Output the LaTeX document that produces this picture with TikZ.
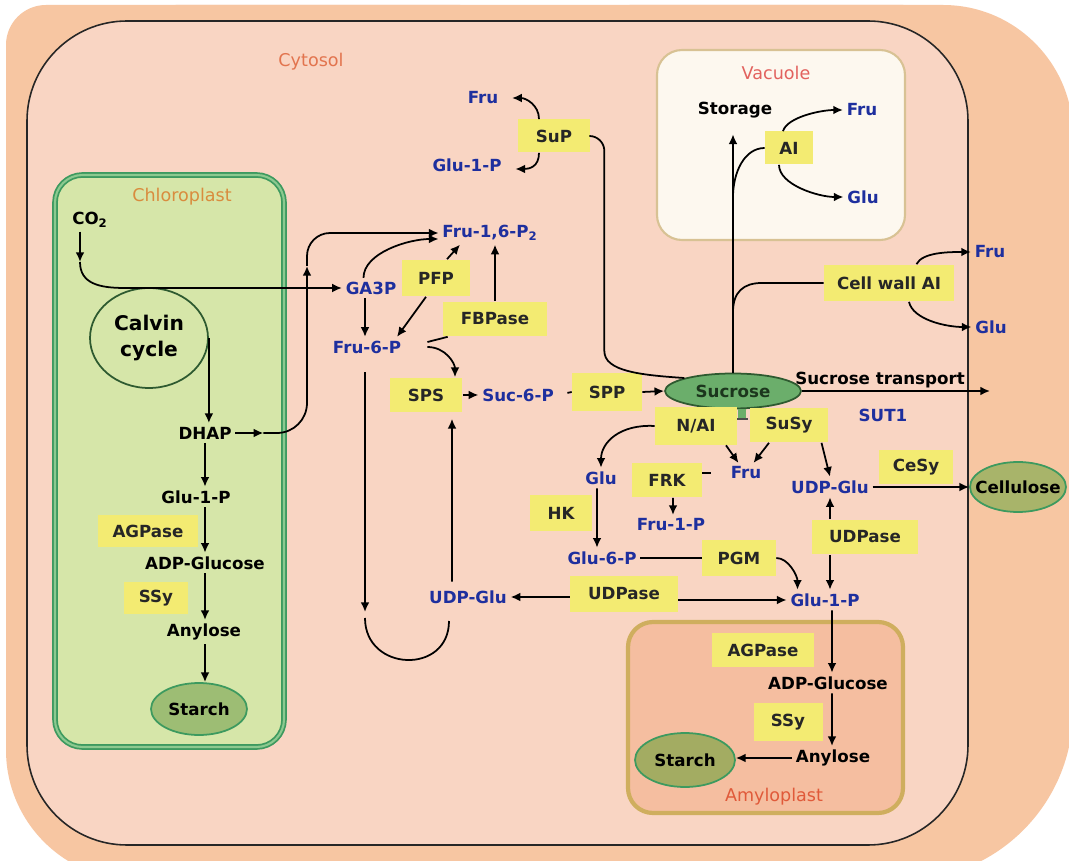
\documentclass[tikz,border=0pt]{standalone}
\usepackage{fontspec}
\setmainfont{DejaVu Sans}
\usetikzlibrary{arrows.meta,shapes.geometric,calc}

\definecolor{outerpeach}{HTML}{F7C6A2}
\definecolor{cytofill}{HTML}{F9D5C3}
\definecolor{chlfill}{HTML}{D6E6A9}
\definecolor{chlborder}{HTML}{3D9A5F}
\definecolor{chlmid}{HTML}{8CC98F}
\definecolor{vacfill}{HTML}{FDF8EF}
\definecolor{vacborder}{HTML}{D8C294}
\definecolor{amyfill}{HTML}{F5BEA0}
\definecolor{amyborder}{HTML}{CFAE5E}
\definecolor{enzyellow}{HTML}{F3EB72}
\definecolor{metblue}{HTML}{1E2F9E}
\definecolor{sucfill}{HTML}{6BAE6B}
\definecolor{sucline}{HTML}{2E5A30}
\definecolor{starchfill}{HTML}{9DBD74}
\definecolor{amystarch}{HTML}{A3AC62}
\definecolor{cellfill}{HTML}{A8B46A}
\definecolor{labcyto}{HTML}{E2744E}
\definecolor{labchl}{HTML}{D98C3E}
\definecolor{labvac}{HTML}{E2625E}
\definecolor{labamy}{HTML}{E05A3A}

\begin{document}
\begin{tikzpicture}[x=0.02cm, y=-0.02cm,
    every node/.style={align=center},
    met/.style={text=metblue, font=\bfseries\fontsize{9.5}{11}\selectfont, inner sep=2pt},
    blk/.style={text=black, font=\bfseries\fontsize{9.5}{11}\selectfont, inner sep=2pt},
    enz/.style={fill=enzyellow, text=black!85, font=\bfseries\fontsize{9.5}{11}\selectfont,
                minimum width=#1, minimum height=0.7cm, inner sep=0pt},
    enz/.default=1.4cm,
    pool/.style={ellipse, draw=#1, line width=1pt, inner sep=0pt},
    calvintxt/.style={font=\bfseries\fontsize{11.5}{15}\selectfont, inner sep=0pt},
    region/.style={font=\fontsize{10}{12}\selectfont},
    arr/.style={-{Latex[length=5.5pt,width=5pt]}, line width=1pt},
    link/.style={line width=1pt},
  ]
  \useasboundingbox (0,0) rectangle (1069,861);
  \clip (0,0) rectangle (1069,861);
  \fill[white] (0,0) rectangle (1069,861);

  % --- Compartments ------------------------------------------------------
  \fill[outerpeach, rounded corners=3.4cm] (6,5) rectangle (1073,880);
  \fill[outerpeach, rounded corners=0.8cm] (6,5) rectangle (500,430);
  \fill[outerpeach, rounded corners=2.6cm] (500,5) rectangle (1073,430);
  \fill[outerpeach, rounded corners=2.6cm] (6,430) rectangle (500,880);
  \filldraw[fill=cytofill, draw=black!85, line width=0.9pt, rounded corners=2cm]
      (27,21) rectangle (968,845);
  \path[fill=chlfill, draw=chlborder, double=chlmid, double distance=1.2pt,
        line width=1pt, rounded corners=0.55cm] (55,175) rectangle (284,747);
  \filldraw[fill=vacfill, draw=vacborder, line width=1.2pt, rounded corners=0.5cm]
      (657,50) rectangle (905,240);
  \filldraw[fill=amyfill, draw=amyborder, line width=2.4pt, rounded corners=0.5cm]
      (628,622) rectangle (903,813);

  \node[region, text=labcyto] (cytolab) at (311,62)  {Cytosol};
  \node[region, text=labchl]  (chllab)  at (182,197) {Chloroplast};
  \node[region, text=labvac]  (vaclab)  at (776,73)  {Vacuole};
  \node[region, text=labamy]  (amylab)  at (774,797) {Amyloplast};

  % --- Chloroplast -------------------------------------------------------
  \node[blk] (co2) at (90,220) {CO\textsubscript{2}};
  \node[pool=sucline, minimum width=2.36cm, minimum height=2cm,
        label={[calvintxt]center:{Calvin\\cycle}}] (calvin) at (149,338) {};
  \node[blk] (dhap)  at (205,433) {DHAP};
  \node[blk] (g1pc)  at (196,497) {Glu-1-P};
  \node[enz=2.02cm, minimum height=0.66cm] (agpc) at (148,531) {AGPase};
  \node[blk] (adpgc) at (205,563) {ADP-Glucose};
  \node[enz=1.3cm, minimum height=0.66cm] (ssyc) at (156,598) {SSy};
  \node[blk] (anylc) at (204,632) {Anylose};
  \node[pool=chlborder, fill=starchfill, minimum width=1.92cm, minimum height=1.04cm,
        label={[blk]center:Starch}] (starchc) at (199,709) {};

  % --- Cytosol: sucrose synthesis ------------------------------------------
  \node[met] (ga3p)   at (371,288) {GA3P};
  \node[enz=1.36cm, minimum height=0.74cm] (pfp) at (436,278) {PFP};
  \node[met] (f16)    at (490,233) {Fru-1,6-P\textsubscript{2}};
  \node[enz=2.08cm] (fbpase) at (495,319) {FBPase};
  \node[met] (f6p)    at (367,347) {Fru-6-P};
  \node[enz=1.46cm] (sps) at (426,395) {SPS};
  \node[met] (suc6p)  at (518,395) {Suc-6-P};
  \node[enz=1.4cm, minimum height=0.76cm] (spp) at (607,392) {SPP};
  \node[pool=sucline, fill=sucfill, minimum width=2.72cm, minimum height=0.7cm,
        label={[blk, text=sucline!60!black]center:Sucrose}] (sucrose) at (733,391) {};
  \node[met] (frutop) at (483,98)  {Fru};
  \node[met] (g1ptop) at (467,165) {Glu-1-P};
  \node[enz=1.44cm, minimum height=0.66cm] (sup) at (554,136) {SuP};

  % --- Vacuole and cell wall -----------------------------------------------
  \node[blk] (storage) at (735,110) {Storage};
  \node[enz=0.96cm, minimum height=0.66cm] (ai) at (789,148) {AI};
  \node[met] (fruvac) at (862,110) {Fru};
  \node[met] (gluvac) at (863,197) {Glu};
  \node[enz=2.6cm, minimum height=0.74cm] (cwai) at (889,283) {Cell wall AI};
  \node[met] (frucw) at (990,252) {Fru};
  \node[met] (glucw) at (991,327) {Glu};
  \node[blk] (suctrans) at (880,380) {Sucrose transport};
  \node[met] (sut1) at (883,415) {SUT1};

  % --- Cytosol: sucrose breakdown ------------------------------------------
  \node[enz=1.64cm, minimum height=0.76cm] (nai) at (696,426) {N/AI};
  \node[enz=1.56cm] (susy) at (789,425) {SuSy};
  \node[met] (glu)   at (601,478) {Glu};
  \node[met] (fru)   at (746,473) {Fru};
  \node[enz=1.4cm] (frk) at (667,480) {FRK};
  \node[enz=1.24cm, minimum height=0.74cm] (hk) at (561,513) {HK};
  \node[met] (fru1p) at (671,525) {Fru-1-P};
  \node[met] (glu6p) at (602,558) {Glu-6-P};
  \node[enz=1.48cm, minimum height=0.74cm] (pgm) at (739,558) {PGM};
  \node[met] (udpglur) at (830,487) {UDP-Glu};
  \node[enz=1.48cm] (cesy) at (916,467) {CeSy};
  \node[pool=chlborder, fill=cellfill, minimum width=1.92cm, minimum height=1cm,
        label={[blk]center:Cellulose}] (cellulose) at (1018,487) {};
  \node[enz=2.12cm] (udpaser) at (865,537) {UDPase};
  \node[met] (glu1pr)  at (825,600) {Glu-1-P};
  \node[enz=2.16cm, minimum height=0.74cm] (udpasel) at (624,594) {UDPase};
  \node[met] (udpglul) at (468,597) {UDP-Glu};

  % --- Amyloplast ----------------------------------------------------------
  \node[enz=2.06cm, minimum height=0.68cm] (agpa) at (763,650) {AGPase};
  \node[blk] (adpga) at (828,683) {ADP-Glucose};
  \node[enz=1.38cm, minimum height=0.78cm] (ssya) at (788,722) {SSy};
  \node[blk] (anyla) at (833,758) {Anylose};
  \node[pool=chlborder, fill=amystarch, minimum width=2cm, minimum height=1.08cm,
        label={[blk]center:Starch}] (starcha) at (685,760) {};

  % --- Connectors: chloroplast ---------------------------------------------
  \coordinate (co2tip) at (80,262);
  \draw[arr] (co2.south -| co2tip) -- (co2tip);
  \draw[arr] (co2tip) .. controls +(0,22) and +(-25,0) ..
      ($(co2tip |- ga3p.west)+(45,0)$) -- (ga3p.west);
  \draw[arr] (calvin.east) -- (calvin.east |- dhap.north);
  \draw[arr] (dhap.east) -- ++(28,0) coordinate (dhapout);
  \coordinate (upmark) at (307,266);
  \draw[arr, rounded corners=0.6cm] (dhapout) -| (upmark);
  \draw[arr, rounded corners=0.46cm] (upmark) |- (f16.west);
  \draw[arr] (dhap.south) -- (dhap.south |- g1pc.north);
  \draw[arr] (g1pc.south -| dhap.south) -- (adpgc.north -| dhap.south);
  \draw[arr] (adpgc.south -| dhap.south) -- (anylc.north -| dhap.south);
  \draw[arr] (anylc.south -| dhap.south) -- (starchc.north -| dhap.south);

  % --- Connectors: sucrose synthesis ---------------------------------------
  \draw[arr] ([xshift=-0.15cm]ga3p.north) .. controls +(0,-25) and +(-30,0) ..
      ([yshift=-0.12cm]f16.west);
  \draw[arr] ([xshift=0.22cm]pfp.north) -- ([xshift=-0.6cm]f16.south);
  \draw[arr] (fbpase.north) -- (fbpase.north |- f16.south);
  \draw[arr] ([xshift=-0.12cm]ga3p.south) -- ($(ga3p.south |- f6p.north)+(-6,0)$);
  \draw[arr] ([xshift=-0.2cm]pfp.south) -- ([xshift=0.6cm]f6p.north);
  \draw[link] ([xshift=0.45cm,yshift=0.1cm]f6p.east) -- ([xshift=0.1cm]fbpase.south west);
  \draw[arr] ([xshift=0.45cm]f6p.east) .. controls +(18,0) and +(0,-14) ..
      ([xshift=0.58cm]sps.north);
  \draw[arr] (sps.east) -- (suc6p.west);
  \draw[link, shorten <=0.2cm] (suc6p.east) -- (spp.west);
  \draw[arr] (spp.east) -- (sucrose.west);
  \coordinate (uleft) at (365,612);
  \coordinate (uright) at (449,621);
  \draw[arr, shorten <=0.3cm] (f6p.south -| uleft) -- (uleft);
  \draw[link] ([yshift=-0.12cm]uleft) .. controls +(0,54) and +(0,54) .. (uright);
  \draw[arr, shorten <=0.1cm, shorten >=0.12cm] ([xshift=-0.32cm]udpglul.north) --
      ($(udpglul.north |- sps.south)+(-16,0)$);
  \draw[arr] ([xshift=-0.3cm]sup.north) .. controls +(0,-14) and +(14,0) ..
      ([xshift=0.2cm]frutop.east);
  \draw[arr] ([xshift=-0.3cm]sup.south) .. controls +(0,14) and +(14,0) ..
      ([xshift=0.2cm,yshift=-0.08cm]g1ptop.east);
  \draw[link, rounded corners=0.3cm] (sup.east) -| ++(14,200)
      .. controls +(0,35) and +(-45,-3) .. (sucrose.north west);

  % --- Connectors: vacuole, cell wall, transport ---------------------------
  \draw[arr, shorten >=0.25cm] (sucrose.north) -- (sucrose.north |- storage.south);
  \draw[link] (ai.west) .. controls +(-20,0) and +(0,-25) .. (sucrose.north |- gluvac);
  \draw[arr] ([xshift=-0.12cm]ai.north) .. controls +(4,-14) and +(-22,0) .. (fruvac.west);
  \draw[arr] ([xshift=-0.2cm]ai.south) .. controls +(0,20) and +(-25,0) .. (gluvac.west);
  \draw[link] (cwai.west) -- ++(-62,0) .. controls +(-18,0) and +(0,-20) ..
      ($(sucrose.north |- cwai.south)+(0,10)$);
  \draw[arr] ([xshift=0.55cm]cwai.north) .. controls +(6,-12) and +(-22,0) .. (frucw.west);
  \draw[arr] ([xshift=0.4cm]cwai.south) .. controls +(4,18) and +(-25,0) .. (glucw.west);
  \coordinate (suttip) at (990,391);
  \draw[arr] (sucrose.east) -- (suttip);

  % --- Connectors: sucrose breakdown ---------------------------------------
  \fill[sucfill] ([xshift=0.1cm]sucrose.south) rectangle ++(8,9);
  \draw[line width=1.2pt, black!70] ([xshift=0.08cm,yshift=-0.2cm]sucrose.south) -- ++(11,0);
  \draw[arr] (nai.west) .. controls +(-35,-2) and +(0,-25) .. (glu.north);
  \draw[arr] ([xshift=0.6cm]nai.south) -- ([xshift=-0.15cm]fru.north);
  \draw[arr] ([xshift=-0.4cm]susy.south) -- ([xshift=0.15cm]fru.north);
  \draw[arr] ([xshift=0.65cm]susy.south) -- (udpglur.north);
  \draw[link] (frk.east |- fru.west) -- ([xshift=-0.32cm]fru.west);
  \draw[arr] ([xshift=0.12cm]frk.south) -- ($(frk.south |- fru1p.north)+(6,0)$);
  \draw[arr] ([xshift=-0.08cm]glu.south) -- ($(glu.south |- glu6p.north)+(-4,0)$);
  \draw[link] (glu6p.east) -- (pgm.west);
  \draw[arr] (pgm.east) .. controls +(12,0) and +(0,-14) .. ([xshift=-0.55cm]glu1pr.north);
  \draw[arr] (udpglur.south |- udpaser.north) -- (udpglur.south);
  \draw[arr] (udpglur.south |- udpaser.south) -- (udpglur.south |- glu1pr.north);
  \draw[arr] (udpglur.east) -- (cellulose.west);
  \draw[arr] (udpasel.east |- glu1pr.west) -- (glu1pr.west);
  \draw[arr] (udpasel.west |- udpglul.east) -- (udpglul.east);

  % --- Connectors: amyloplast ----------------------------------------------
  \draw[arr] ([xshift=0.14cm]glu1pr.south) -- ($(glu1pr.south |- adpga.north)+(7,0)$);
  \draw[arr] ([xshift=0.08cm]adpga.south) -- ($(adpga.south |- anyla.north)+(4,0)$);
  \draw[arr] (anyla.west) -- (anyla.west -| starcha.east);
\end{tikzpicture}
\end{document}
